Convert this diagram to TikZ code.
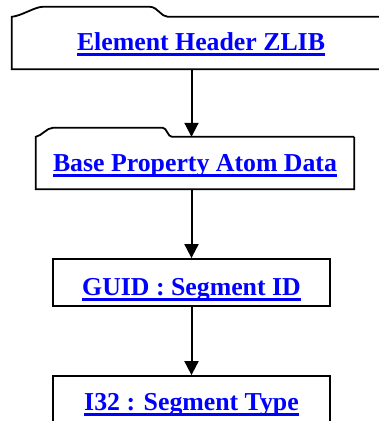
\documentclass[tikz,border=0pt]{standalone}
\usepackage{fontspec}
\setmainfont{Liberation Serif}
\usetikzlibrary{arrows.meta}
\tikzset{x=1pt, y=-1pt,
every box/.style={
rectangle,
inner sep=0pt,
text=blue,
text depth=0pt,
font=\fontsize{25.8}{31}\selectfont\bfseries},
plainbox/.style={every box, draw, line width=1.8pt},
outline/.style={line width=1.8pt},
every edge/.style={
draw,
line width=2pt,
-{Triangle[width=14pt,length=14pt]}}}
\newcommand{\ulink}[1]{\setbox0=\hbox{#1}\rlap{\rule[-5.5pt]{\wd0}{2.2pt}}\box0}

\begin{document}
\begin{tikzpicture}
\useasboundingbox (0,0) rectangle (379,421);
\clip (0,0) rectangle (379,421);
\node[every box, minimum width=378pt, minimum height=52pt, text height=14pt] (hdr) at (201,43) {\ulink{Element Header ZLIB}};
\node[every box, minimum width=318pt, minimum height=52pt, text height=16pt] (base) at (195,163) {\ulink{Base Property Atom Data}};
\node[plainbox, minimum width=277pt, minimum height=47pt, text height=25pt] (guid) at (191.5,282.5) {\ulink{GUID : Segment ID}};
\node[plainbox, minimum width=277pt, minimum height=47pt, text height=21pt] (type) at (191.5,399.5) {\ulink{I32 : Segment Type}};
% folder tabs
\draw[outline] (hdr.north east) -- (hdr.south east) -- (hdr.south west) -- (hdr.north west)
  .. controls +(10,-1) and +(-8,0) .. ++(31,-10) -- ++(107,0)
  .. controls +(8,0) and +(-7,0) .. ++(18,10) -- (hdr.north east);
\draw[outline] (base.north east) -- (base.south east) -- (base.south west) -- (base.north west)
  .. controls +(6,-1) and +(-6,0) .. ++(17,-9) -- ++(110,0)
  .. controls +(4,0) and +(-4,0) .. ++(9,9) -- (base.north east);
\draw (hdr.south -| guid) edge (base.north -| guid);
\draw (base.south -| guid) edge (guid.north);
\draw (guid) edge (type);
\end{tikzpicture}
\end{document}
